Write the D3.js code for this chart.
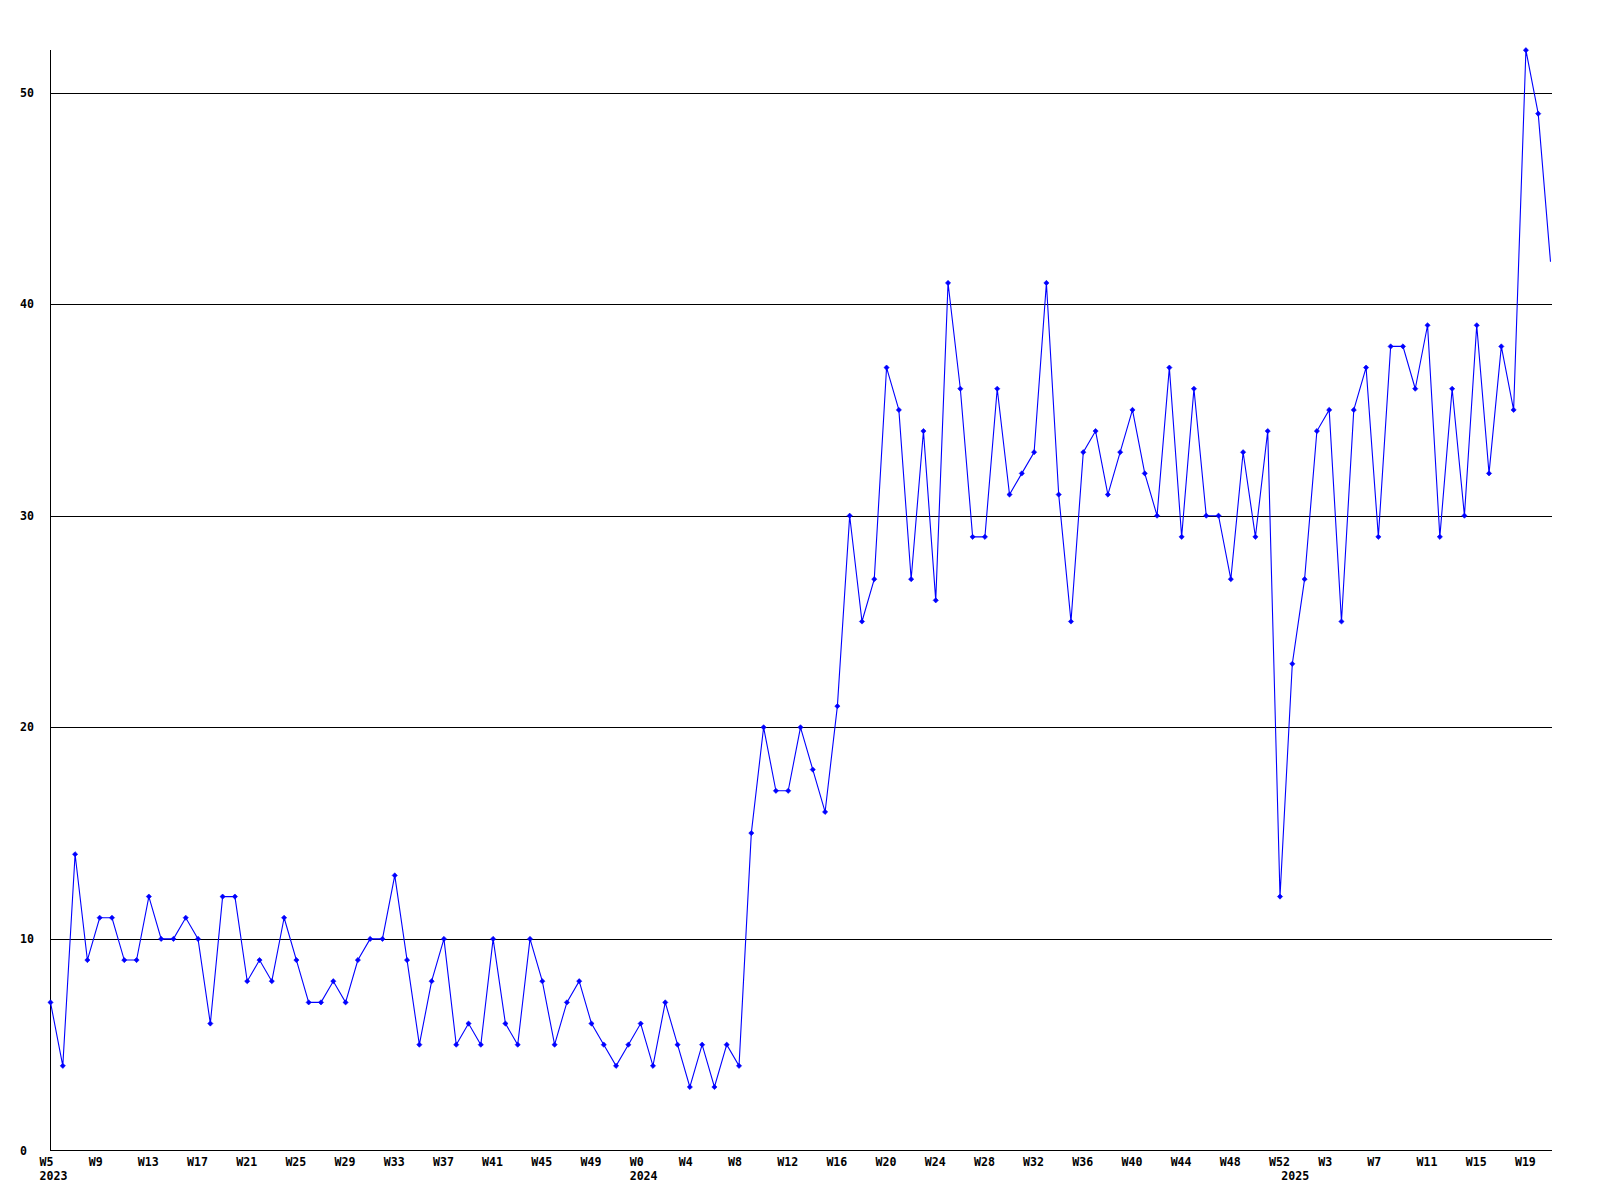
<!DOCTYPE html>
<html>
<head>
<meta charset="utf-8">
<script src="https://cdn.jsdelivr.net/npm/d3@7"></script>
<style>
  html, body { margin: 0; padding: 0; background: #fff; }
  svg { display: block; }
  text { font-family: "DejaVu Sans Mono", "Liberation Mono", monospace; font-weight: bold; font-size: 11.6px; fill: #000; }
</style>
</head>
<body>
<svg id="chart" width="1600" height="1200"></svg>
<script>
// ---- data ----
const years = ["2023", "2024", "2025"];
const weeks2023 = d3.range(5, 53).map(w => "W" + w);   // W5..W52
const weeks2024 = d3.range(0, 53).map(w => "W" + w);   // W0..W52
const weeks2025 = d3.range(0, 22).map(w => "W" + w);   // W0..W21

const values2023 = [7,4,14,9,11,11,9,9,12,10,10,11,10,6,12,12,8,9,8,11,9,7,7,8,7,9,10,10,13,9,5,8,10,5,6,5,10,6,5,10,8,5,7,8,6,5,4,5];
const values2024 = [6,4,7,5,3,5,3,5,4,15,20,17,17,20,18,16,21,30,25,27,37,35,27,34,26,41,36,29,29,36,31,32,33,41,31,25,33,34,31,33,35,32,30,37,29,36,30,30,27,33,29,34,12];
const values2025 = [23,27,34,35,25,35,37,29,38,38,36,39,29,36,30,39,32,38,35,52,49,42];

const yTicks = [0, 10, 20, 30, 40, 50];
const yMax = 52;
const labelEvery = 4;

// ---- build series ----
const weekLabels = [...weeks2023, ...weeks2024, ...weeks2025];
const values = [...values2023, ...values2024, ...values2025];
const yearStarts = [0, weeks2023.length, weeks2023.length + weeks2024.length];
const data = values.map((v, i) => ({ i, v, week: weekLabels[i] }));
const n = data.length;

const svg = d3.select("#chart");
svg.append("rect").attr("width", 1600).attr("height", 1200).attr("fill", "#fff");

const x = d3.scaleLinear().domain([0, n - 1]).range([50.5, 1550.5]);
const y = d3.scaleLinear().domain([0, yMax]).range([1150.5, 1150.5 - yMax * 21.16]);

// grid lines
svg.append("g").selectAll("line").data(yTicks.filter(t => t > 0)).join("line")
  .attr("x1", x(0)).attr("x2", x(n - 1) + 1)
  .attr("y1", d => Math.round(y(d)) + 0.5).attr("y2", d => Math.round(y(d)) + 0.5)
  .attr("stroke", "#000").attr("stroke-width", 1).attr("shape-rendering", "crispEdges");

// x axis line
svg.append("line")
  .attr("x1", x(0)).attr("x2", x(n - 1) + 1)
  .attr("y1", y(0)).attr("y2", y(0))
  .attr("stroke", "#000").attr("shape-rendering", "crispEdges");
// y axis line
svg.append("line")
  .attr("x1", x(0)).attr("x2", x(0))
  .attr("y1", y(yMax)).attr("y2", y(0))
  .attr("stroke", "#000").attr("shape-rendering", "crispEdges");

// y tick labels
svg.append("g").selectAll("text").data(yTicks).join("text")
  .attr("x", 20).attr("y", d => y(d) + 4)
  .text(d => d);

// x tick labels
const tickIdx = d3.range(0, n, labelEvery);
svg.append("g").selectAll("text").data(tickIdx).join("text")
  .attr("x", d => x(d) - 11).attr("y", 1166)
  .text(d => weekLabels[d]);

// year labels
svg.append("g").selectAll("text").data(yearStarts).join("text")
  .attr("x", d => x(d) - 11).attr("y", 1180)
  .text((d, k) => years[k]);

// line
const line = d3.line().x(d => x(d.i)).y(d => y(d.v));
svg.append("path").datum(data)
  .attr("d", line)
  .attr("fill", "none").attr("stroke", "#0000ff").attr("stroke-width", 1.1);

// markers (last point has none – it sits on the right edge)
const r = 2.6;
svg.append("g").selectAll("path").data(data.slice(0, n - 1)).join("path")
  .attr("d", d => {
    const cx = x(d.i), cy = y(d.v);
    return `M${cx - r},${cy}L${cx},${cy - r}L${cx + r},${cy}L${cx},${cy + r}Z`;
  })
  .attr("fill", "#0000ff").attr("stroke", "#0000ff").attr("stroke-width", 0.6);
</script>
</body>
</html>
